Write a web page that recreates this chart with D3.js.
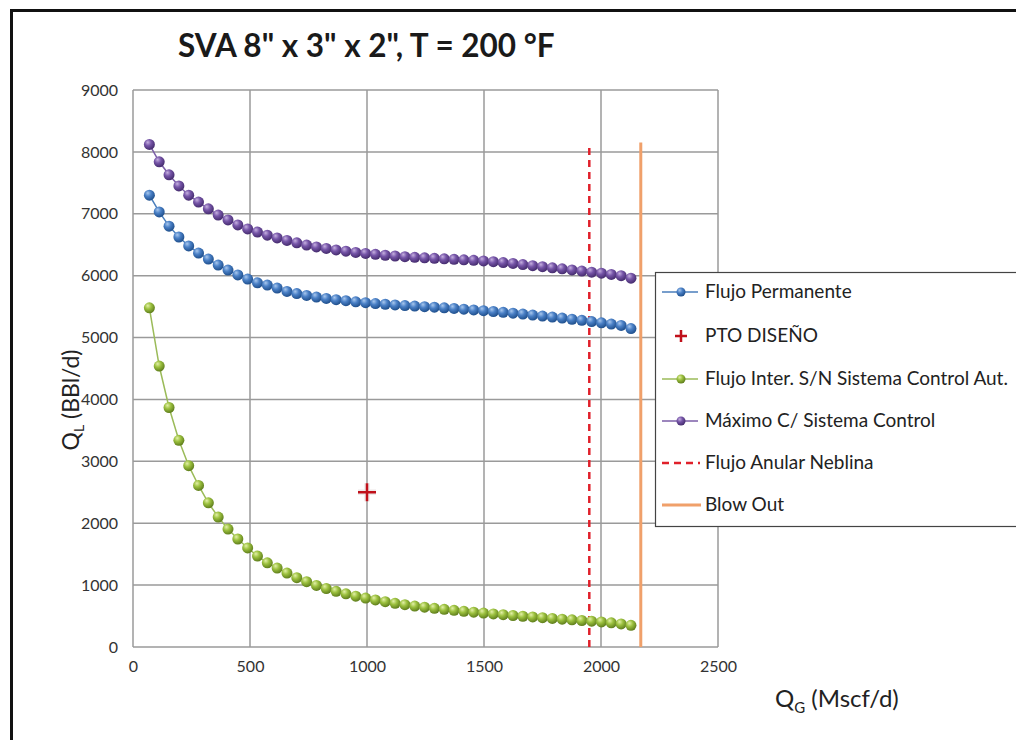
<!DOCTYPE html>
<html>
<head>
<meta charset="utf-8">
<script src="https://cdn.jsdelivr.net/npm/d3@7"></script>
<style>
  html, body { margin: 0; padding: 0; background: #fff; }
  svg { display: block; }
</style>
</head>
<body>
<svg id="chart" width="1016" height="740"></svg>
<script>
// ---------------- DATA ----------------
const title = "SVA 8\" x 3\" x 2\", T = 200 °F";
const xTicks = [0, 500, 1000, 1500, 2000, 2500];
const yTicks = [0, 1000, 2000, 3000, 4000, 5000, 6000, 7000, 8000, 9000];

const qg = [70,112,154,196,238,280,322,364,406,448,490,532,574,616,658,700,742,784,826,868,
            910,952,994,1036,1078,1120,1162,1204,1246,1288,1330,1372,1414,1456,1498,1540,1582,1624,1666,1708,
            1750,1792,1834,1876,1918,1960,2002,2044,2086,2128];

const flujoPermanente = [7300,7030,6800,6625,6480,6365,6268,6172,6090,6012,5945,5885,5848,5800,5745,5710,5680,5655,5632,5612,
            5595,5578,5563,5550,5538,5527,5517,5508,5499,5490,5481,5470,5458,5446,5434,5421,5408,5394,5380,5364,
            5348,5331,5314,5296,5278,5259,5239,5218,5196,5145];

const flujoInter = [5480,4540,3870,3340,2930,2610,2330,2100,1905,1745,1600,1470,1360,1275,1195,1120,1055,995,945,900,
            860,822,790,760,732,706,683,662,643,625,608,592,577,562,548,535,522,509,497,485,
            473,462,450,439,428,417,405,390,372,350];

const maximoControl = [8120,7840,7630,7450,7300,7190,7080,6980,6900,6820,6755,6705,6655,6610,6570,6530,6495,6465,6440,6415,
            6395,6375,6360,6345,6330,6318,6307,6297,6288,6280,6272,6264,6256,6248,6238,6226,6212,6197,6180,6162,
            6145,6127,6110,6092,6075,6057,6040,6020,6000,5960];

const ptoDiseno = [{x: 1000, y: 2500}];
const neblinaX = 1950, neblinaTop = 8100;
const blowOutX = 2170, blowOutTop = 8150;

const legendLabels = ["Flujo Permanente", "PTO DISEÑO", "Flujo Inter. S/N Sistema Control Aut.",
                      "Máximo C/ Sistema Control", "Flujo Anular Neblina", "Blow Out"];

// ---------------- DRAW ----------------
const svg = d3.select("#chart");
const W = 1016, H = 740;
const plot = {left: 133, right: 718, top: 90, bottom: 647};
const x = d3.scaleLinear().domain([0, 2500]).range([plot.left, plot.right]);
const y = d3.scaleLinear().domain([0, 9000]).range([plot.bottom, plot.top]);
const font = "Lato, 'Open Sans', sans-serif";

svg.append("rect").attr("width", W).attr("height", H).attr("fill", "#fff");

// gradients for 3D balls
const defs = svg.append("defs");
function ball(id, light, mid, dark) {
  const g = defs.append("radialGradient").attr("id", id)
    .attr("cx", "40%").attr("cy", "35%").attr("r", "65%").attr("fx", "35%").attr("fy", "30%");
  g.append("stop").attr("offset", "0%").attr("stop-color", light);
  g.append("stop").attr("offset", "45%").attr("stop-color", mid);
  g.append("stop").attr("offset", "100%").attr("stop-color", dark);
}
ball("gBlue", "#a9c8ee", "#4a80c6", "#1f4f8c");
ball("gGreen", "#e3f0a8", "#9cc13f", "#5f7e1c");
ball("gPurple", "#c6b0e0", "#7655a8", "#452c6e");

// outer frame
svg.append("rect").attr("x", 11.5).attr("y", 10.5).attr("width", 1020).attr("height", 740)
  .attr("fill", "none").attr("stroke", "#111").attr("stroke-width", 3);

// title
svg.append("text").attr("x", 178).attr("y", 57).attr("font-family", font).attr("font-size", 31.5)
  .attr("font-weight", 700).attr("fill", "#1a1a1a").text(title);

// grid
const grid = svg.append("g");
grid.selectAll("line.h").data(yTicks).enter().append("line")
  .attr("x1", plot.left).attr("x2", plot.right).attr("y1", d => y(d)).attr("y2", d => y(d))
  .attr("stroke", "#9a9a9a").attr("stroke-width", 1.5);
grid.selectAll("line.v").data(xTicks).enter().append("line")
  .attr("y1", plot.top).attr("y2", plot.bottom).attr("x1", d => x(d)).attr("x2", d => x(d))
  .attr("stroke", "#9a9a9a").attr("stroke-width", 1.5);

// axes (labels only)
const xAxis = d3.axisBottom(x).tickValues(xTicks).tickFormat(d3.format("d")).tickSize(0).tickPadding(14);
const gx = svg.append("g").attr("transform", `translate(0,${plot.bottom})`).call(xAxis);
gx.select(".domain").remove();
gx.selectAll("text").attr("font-family", font).attr("font-size", 16).attr("fill", "#333");

const yAxis = d3.axisLeft(y).tickValues(yTicks).tickFormat(d3.format("d")).tickSize(0).tickPadding(15);
const gy = svg.append("g").attr("transform", `translate(${plot.left},0)`).call(yAxis);
gy.select(".domain").remove();
gy.selectAll("text").attr("font-family", font).attr("font-size", 16).attr("fill", "#333");

// axis titles
const yl = svg.append("text").attr("transform", `translate(79,400) rotate(-90)`)
  .attr("text-anchor", "middle").attr("font-family", font).attr("font-size", 23).attr("fill", "#222");
yl.append("tspan").text("Q");
yl.append("tspan").attr("font-size", 14).attr("dy", 5).text("L");
yl.append("tspan").attr("dy", -5).text(" (BBl/d)");

const xl = svg.append("text").attr("x", 775).attr("y", 707)
  .attr("font-family", font).attr("font-size", 24).attr("fill", "#222");
xl.append("tspan").text("Q");
xl.append("tspan").attr("font-size", 15).attr("dy", 6).text("G");
xl.append("tspan").attr("dy", -6).text(" (Mscf/d)");

// vertical reference lines
svg.append("line").attr("x1", x(blowOutX)).attr("x2", x(blowOutX)).attr("y1", y(0)).attr("y2", y(blowOutTop))
  .attr("stroke", "#f0a06a").attr("stroke-width", 3);
svg.append("line").attr("x1", x(neblinaX)).attr("x2", x(neblinaX)).attr("y1", y(0)).attr("y2", y(neblinaTop))
  .attr("stroke", "#e0202a").attr("stroke-width", 2.5).attr("stroke-dasharray", "7,5");

// series
const series = [
  {vals: flujoInter, line: "#9bbb59", grad: "url(#gGreen)"},
  {vals: flujoPermanente, line: "#4a7ebb", grad: "url(#gBlue)"},
  {vals: maximoControl, line: "#7b5ea7", grad: "url(#gPurple)"}
];
const lineGen = d3.line().x(d => x(d[0])).y(d => y(d[1]));
series.forEach(s => {
  const pts = qg.map((q, i) => [q, s.vals[i]]);
  svg.append("path").datum(pts).attr("d", lineGen).attr("fill", "none")
    .attr("stroke", s.line).attr("stroke-width", 1.5);
  svg.append("g").selectAll("circle").data(pts).enter().append("circle")
    .attr("cx", d => x(d[0])).attr("cy", d => y(d[1])).attr("r", 5.5).attr("fill", s.grad);
});

// PTO DISEÑO
function plus(g, cx, cy, s, w) {
  g.append("path").attr("d", `M${cx - s},${cy}H${cx + s}M${cx},${cy - s}V${cy + s}`)
    .attr("stroke", "#e8e0e0").attr("stroke-width", w + 3).attr("opacity", 0.7);
  g.append("path").attr("d", `M${cx - s},${cy}H${cx + s}M${cx},${cy - s}V${cy + s}`)
    .attr("stroke", "#c0101a").attr("stroke-width", w);
}
ptoDiseno.forEach(p => plus(svg, x(p.x), y(p.y), 9, 2.5));

// legend
const lg = svg.append("g");
lg.append("rect").attr("x", 655.5).attr("y", 272.5).attr("width", 380).attr("height", 254)
  .attr("fill", "#fff").attr("stroke", "#444").attr("stroke-width", 1.2);
const rowY = [292, 336, 379, 421, 463, 505];
const lx0 = 662, lx1 = 698, lmx = 681;
legendLabels.forEach((lab, i) => {
  const cy = rowY[i];
  if (i === 0 || i === 2 || i === 3) {
    const s = i === 0 ? series[1] : (i === 2 ? series[0] : series[2]);
    lg.append("line").attr("x1", lx0).attr("x2", lx1).attr("y1", cy).attr("y2", cy)
      .attr("stroke", s.line).attr("stroke-width", 1.5);
    lg.append("circle").attr("cx", lmx).attr("cy", cy).attr("r", 4.5).attr("fill", s.grad);
  } else if (i === 1) {
    lg.append("path").attr("d", `M${lmx - 6},${cy}H${lmx + 6}M${lmx},${cy - 6}V${cy + 6}`)
      .attr("stroke", "#c0101a").attr("stroke-width", 2.5);
  } else if (i === 4) {
    lg.append("line").attr("x1", lx0).attr("x2", lx1 + 2).attr("y1", cy).attr("y2", cy)
      .attr("stroke", "#e0202a").attr("stroke-width", 2.5).attr("stroke-dasharray", "7,5");
  } else {
    lg.append("line").attr("x1", lx0).attr("x2", lx1 + 3).attr("y1", cy).attr("y2", cy)
      .attr("stroke", "#f0a06a").attr("stroke-width", 3);
  }
  lg.append("text").attr("x", 705).attr("y", cy + 6).attr("font-family", font)
    .attr("font-size", 19).attr("fill", "#222").text(lab);
});
</script>
</body>
</html>
